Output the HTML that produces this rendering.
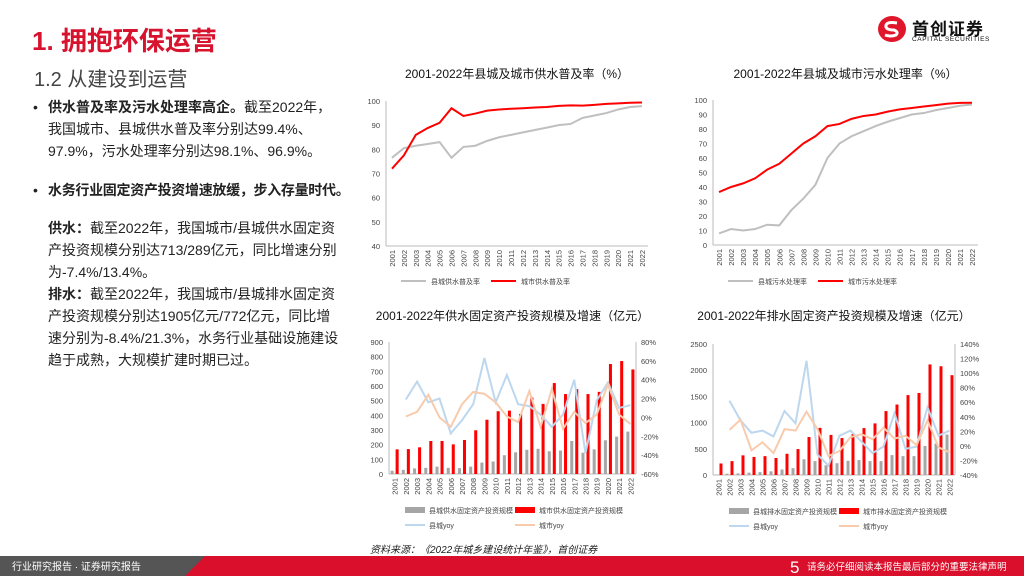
<!DOCTYPE html>
<html><head><meta charset="utf-8">
<style>
body{margin:0;width:1024px;height:576px;overflow:hidden;background:#fff;font-family:"Liberation Sans","Noto Sans CJK SC",sans-serif;position:relative}
.abs{position:absolute}
.txt{left:48px;width:294px;font-size:14px;line-height:22px;color:#222}
</style></head><body>
<div class="abs" style="left:32px;top:21px;font-size:26px;font-weight:bold;color:#d7132e">1. 拥抱环保运营</div>
<div class="abs" style="left:34px;top:63px;font-size:20px;color:#444">1.2 从建设到运营</div>
<div class="abs" style="left:877px;top:15px;width:130px;height:30px">
<svg width="30" height="28" style="position:absolute;left:0;top:0"><ellipse cx="15" cy="14" rx="14" ry="13" fill="#e0162b"/><path d="M20 8 Q8 6 9 12 Q10 15 17 15 Q22 17 19 20 Q14 22 8 20" stroke="#fff" stroke-width="3" fill="none"/></svg>
<div style="position:absolute;left:35px;top:0;font-size:17px;font-weight:bold;color:#111;letter-spacing:1px">首创证券</div>
<div style="position:absolute;left:35px;top:21px;font-size:6.5px;color:#111;letter-spacing:.6px">CAPITAL SECURITIES</div>
</div>
<div class="abs txt" style="top:96px">
<div style="position:relative"><span style="position:absolute;left:-15px">•</span><b>供水普及率及污水处理率高企。</b>截至2022年，我国城市、县城供水普及率分别达99.4%、97.9%，污水处理率分别达98.1%、96.9%。</div>
<div style="position:relative;margin-top:17px;white-space:nowrap;letter-spacing:-0.3px"><span style="position:absolute;left:-15px">•</span><b>水务行业固定资产投资增速放缓，步入存量时代。</b></div>
<div style="margin-top:16px"><b>供水：</b>截至2022年，我国城市/县城供水固定资产投资规模分别达713/289亿元，同比增速分别为-7.4%/13.4%。</div>
<div><b>排水：</b>截至2022年，我国城市/县城排水固定资产投资规模分别达1905亿元/772亿元，同比增速分别为-8.4%/21.3%，水务行业基础设施建设趋于成熟，大规模扩建时期已过。</div>
</div>
<div class="abs" style="left:370px;top:541px;font-size:10px;font-style:italic;color:#222">资料来源：《2022年城乡建设统计年鉴》，首创证券</div>
<svg class="abs" style="left:0;top:556px" width="1024" height="20">
<rect x="0" y="0" width="1024" height="20" fill="#d90f2b"/>
<polygon points="0,0 205,0 185,20 0,20" fill="#555"/>
<text x="12" y="14" font-size="10" fill="#fff">行业研究报告 · 证券研究报告</text>
<text x="790" y="17" font-size="17" fill="#fff">5</text>
<text x="807" y="14" font-size="9.5" fill="#fff">请务必仔细阅读本报告最后部分的重要法律声明</text>
</svg>
<svg id="ch" class="abs" style="left:0;top:0" width="1024" height="540"></svg>
<script>
const years=['2001','2002','2003','2004','2005','2006','2007','2008','2009','2010','2011','2012','2013','2014','2015','2016','2017','2018','2019','2020','2021','2022'];
const c1County=[76.5,80.5,81.5,82.2,83,76.5,81,81.5,83.5,85,86,87,88,89,90,90.5,93,94,95,96.5,97.5,97.9];
const c1City=[72,77.5,86,88.8,91,97,93.8,94.8,96,96.5,96.8,97,97.3,97.5,98,98.2,98.1,98.4,98.8,99,99.3,99.4];
const c2County=[8,11,10,11,14,13.5,24,32,41.5,60,70,75,78.5,82,85,87.5,90,91,93,94.5,96,96.9];
const c2City=[36.5,40,42.5,46,52,56,63,70,75,82,83.5,87,89,90,92,93.5,94.5,95.5,96.5,97.5,98,98.1];
const c3CountyInv=[22,28,38,42,50,42,40,50,78,85,128,148,165,172,155,160,225,145,168,230,255,289];
const c3CityInv=[168,170,182,225,225,202,232,298,370,428,432,410,522,478,620,545,578,545,560,750,770,713];
const c3CountyYoy=[null,19,38,16,20,-17,-3,14,63,16,45,14,12,3,-10,3,40,-38,18,37,10,13];
const c3CityYoy=[null,1,6,24,0,-10,14,27,25,16,1,-5,28,-10,30,-12,6,-6,3,35,3,-7];
const c4CountyInv=[5,25,30,45,55,70,105,130,300,265,185,225,270,285,265,265,380,360,360,555,600,772];
const c4CityInv=[220,265,375,345,360,325,405,495,725,900,765,705,780,895,985,1220,1345,1525,1565,2110,2075,1905];
const c4CountyYoy=[null,62,35,18,21,13,48,31,117,-12,-27,14,21,6,-10,-1,45,-4,-1,53,14,21];
const c4CityYoy=[null,22,36,-6,5,-10,23,21,47,23,-14,-7,12,16,9,25,10,14,1,35,-2,-9];
const svg=document.getElementById('ch');
const NS='http://www.w3.org/2000/svg';
function el(t,a,txt){const e=document.createElementNS(NS,t);for(const k in a)e.setAttribute(k,a[k]);if(txt!==undefined)e.textContent=txt;svg.appendChild(e);return e;}
function lineChart(o){
 const {x0,x1,yT,yB,min,max,step,county,city,title,tY,names,legY,cName}=o;
 const n=years.length,bw=(x1-x0)/n;
 const X=i=>x0+bw*(i+0.5),Y=v=>yB-(v-min)/(max-min)*(yB-yT);
 let t=el('text',{x:(x0+x1)/2,y:tY,'font-size':12,'text-anchor':'middle',fill:'#111'},title);
 
 
 el('line',{x1:x0,y1:yT,x2:x0,y2:yB,stroke:'#bbb'});
 el('line',{x1:x0,y1:yB,x2:x1,y2:yB,stroke:'#bbb'});
 for(let v=min;v<=max;v+=step){let tk=el('text',{x:x0-6,y:Y(v)+3,'font-size':7.5,'text-anchor':'end',fill:'#444'},v);
  
  }
 years.forEach((y,i)=>{let tk=el('text',{x:0,y:0,'font-size':7.5,fill:'#444','text-anchor':'end',transform:`translate(${X(i)+3},${yB+4}) rotate(-90)`},y);
  
  });
 [[county,'#bfbfbf'],[city,'#ff0000']].forEach(([d,c],k)=>{
  let p=el('polyline',{points:d.map((v,i)=>X(i)+','+Y(v)).join(' '),fill:'none',stroke:c,'stroke-width':2});
  
  
  const lx=x0+(k?85:-5);
  el('line',{x1:lx+20,y1:legY,x2:lx+45,y2:legY,stroke:c,'stroke-width':2});
  let lt=el('text',{x:lx+50,y:legY+3,'font-size':7,fill:'#444'},names[k]);
  
  
 });
}
lineChart({x0:386,x1:648,yT:101,yB:246,min:40,max:100,step:10,county:c1County,city:c1City,title:'2001-2022年县城及城市供水普及率（%）',tY:78,names:['县城供水普及率','城市供水普及率'],legY:281,cName:'water-supply-rate'});
lineChart({x0:713,x1:978,yT:100,yB:245,min:0,max:100,step:10,county:c2County,city:c2City,title:'2001-2022年县城及城市污水处理率（%）',tY:78,names:['县城污水处理率','城市污水处理率'],legY:281,cName:'sewage-rate'});
function barChart(o){
 const {x0,x1,yT,yB,lMax,lStep,rMin,rMax,rStep,cInv,ciInv,cYoy,ciYoy,title,tY,names,leg1,cName}=o;
 const n=years.length,bw=(x1-x0)/n;
 const X=i=>x0+bw*(i+0.5),Y=v=>yB-v/lMax*(yB-yT),R=v=>yB-(v-rMin)/(rMax-rMin)*(yB-yT);
 let t=el('text',{x:(x0+x1)/2,y:tY,'font-size':12,'text-anchor':'middle',fill:'#111'},title);
 
 
 el('line',{x1:x0,y1:yT,x2:x0,y2:yB,stroke:'#bbb'});
 el('line',{x1:x1,y1:yT,x2:x1,y2:yB,stroke:'#bbb'});
 el('line',{x1:x0,y1:yB,x2:x1,y2:yB,stroke:'#bbb'});
 for(let v=0;v<=lMax;v+=lStep){let tk=el('text',{x:x0-6,y:Y(v)+3,'font-size':7.5,'text-anchor':'end',fill:'#444'},v);
  
  }
 for(let v=rMin;v<=rMax;v+=rStep){let tk=el('text',{x:x1+5,y:R(v)+3,'font-size':7.5,fill:'#444'},v+'%');
  
  }
 years.forEach((y,i)=>{let tk=el('text',{x:0,y:0,'font-size':7.5,fill:'#444','text-anchor':'end',transform:`translate(${X(i)+3},${yB+4}) rotate(-90)`},y);
  
  });
 const w=bw*0.27;
 cInv.forEach((v,i)=>{let b=el('rect',{x:X(i)-w-1,y:Y(v),width:w,height:yB-Y(v),fill:'#a6a6a6'});
  
  });
 ciInv.forEach((v,i)=>{let b=el('rect',{x:X(i)+1,y:Y(v),width:w,height:yB-Y(v),fill:'#ff0000'});
  
  });
 [[cYoy,'#bdd7ee'],[ciYoy,'#f8cbad']].forEach(([d,c],k)=>{
  const pts=[];d.forEach((v,i)=>{if(v!==null)pts.push(X(i)+','+R(v));});
  let p=el('polyline',{points:pts.join(' '),fill:'none',stroke:c,'stroke-width':2});
  
  
 });
 const ly1=leg1,ly2=leg1+15,lx=x0-4;
 [[lx,ly1,'#a6a6a6',names[0],'rect'],[lx+110,ly1,'#ff0000',names[1],'rect'],[lx,ly2,'#bdd7ee','县城yoy','line'],[lx+110,ly2,'#f8cbad','城市yoy','line']].forEach(([x,y,c,nm,ty])=>{
  if(ty==='rect')el('rect',{x:x+20,y:y-3,width:20,height:6,fill:c});else el('line',{x1:x+20,y1:y,x2:x+40,y2:y,stroke:c,'stroke-width':2});
  let lt=el('text',{x:x+44,y:y+3,'font-size':7,fill:'#444'},nm);
  
  
 });
}
barChart({x0:389,x1:636,yT:342,yB:474,lMax:900,lStep:100,rMin:-60,rMax:80,rStep:20,cInv:c3CountyInv,ciInv:c3CityInv,cYoy:c3CountyYoy,ciYoy:c3CityYoy,title:'2001-2022年供水固定资产投资规模及增速（亿元）',tY:320,names:['县城供水固定资产投资规模','城市供水固定资产投资规模'],leg1:510,cName:'water-supply-investment'});
barChart({x0:713,x1:955,yT:344,yB:475,lMax:2500,lStep:500,rMin:-40,rMax:140,rStep:20,cInv:c4CountyInv,ciInv:c4CityInv,cYoy:c4CountyYoy,ciYoy:c4CityYoy,title:'2001-2022年排水固定资产投资规模及增速（亿元）',tY:320,names:['县城排水固定资产投资规模','城市排水固定资产投资规模'],leg1:511,cName:'drainage-investment'});
</script>
</body></html>
